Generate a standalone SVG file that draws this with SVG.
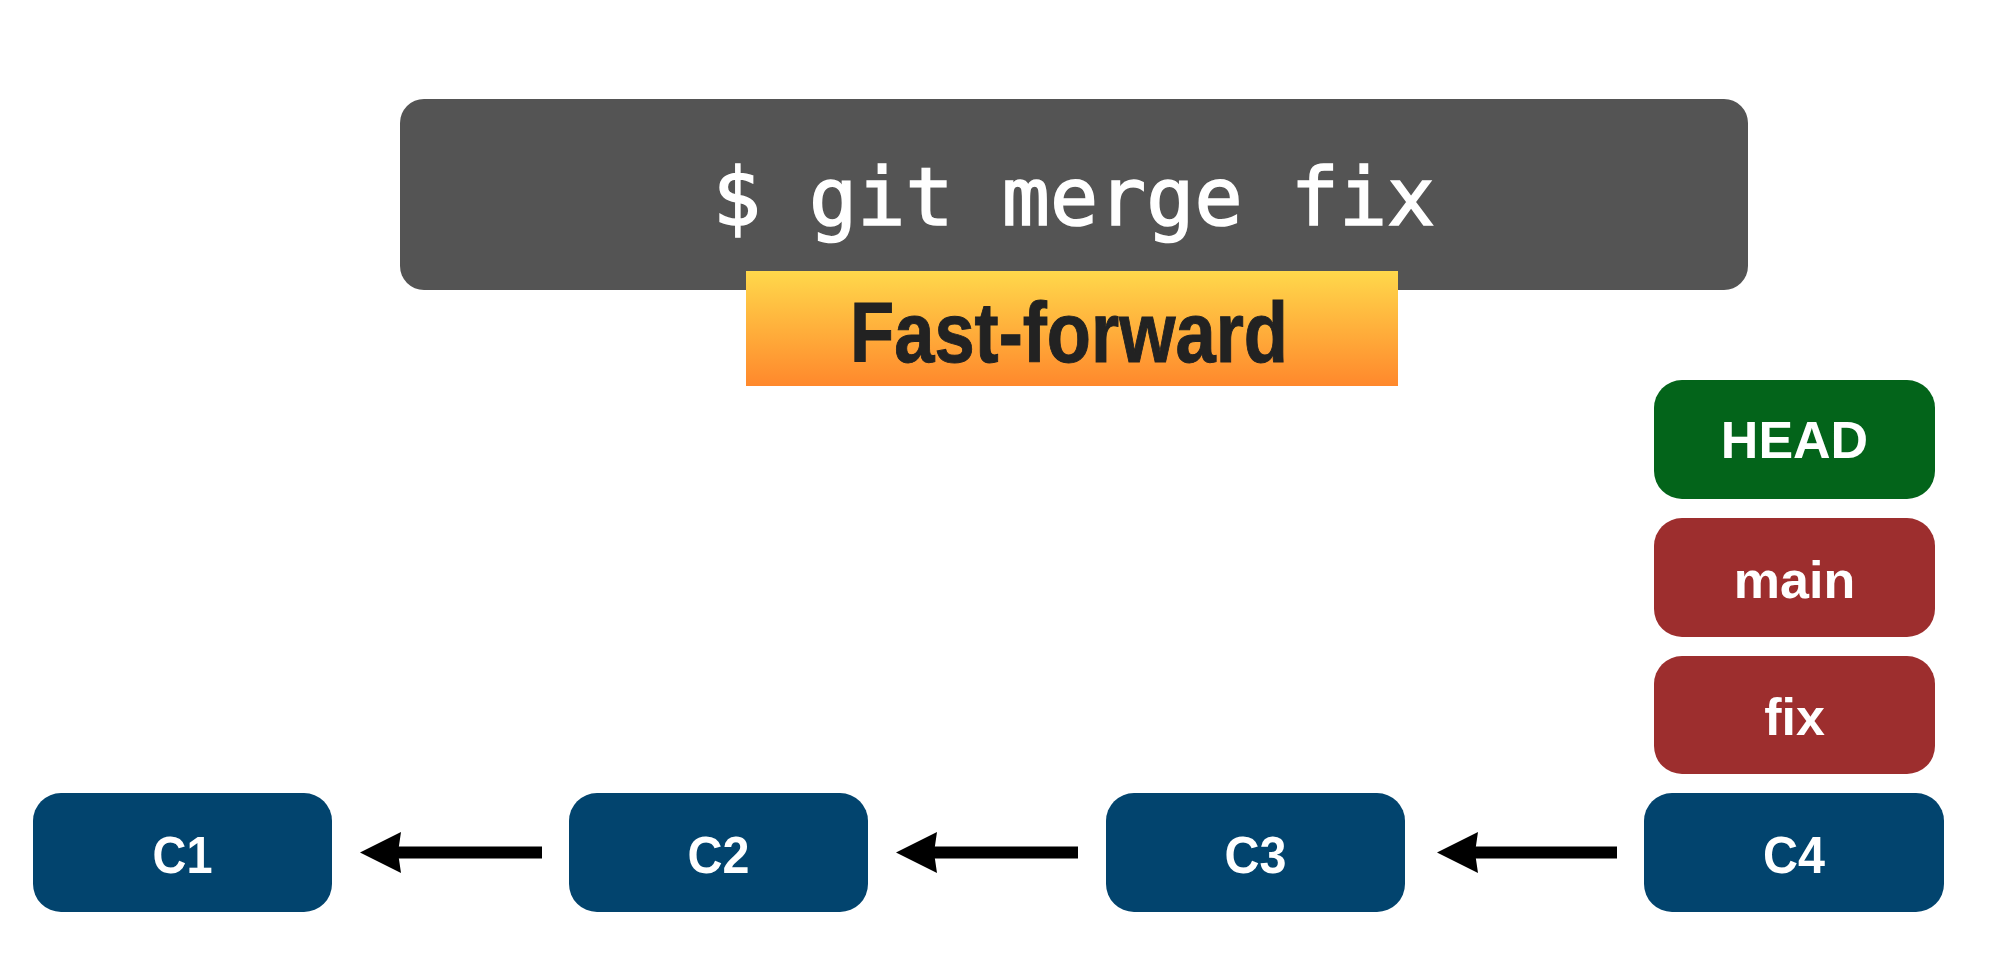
<svg xmlns="http://www.w3.org/2000/svg" width="2000" height="978" viewBox="0 0 2000 978">
<style>
.node text{font-family:"Liberation Sans",Arial,sans-serif;font-weight:bold;font-size:52px;fill:#ffffff;text-anchor:middle}
.commit{fill:#02446e}
.branch{fill:#9d2e2e}
.head{fill:#03641a}
.conn line{stroke:#000;stroke-width:12}
</style>
<defs>
<linearGradient id="og" x1="0" y1="0" x2="0" y2="1">
<stop offset="0" stop-color="#ffd84b"/>
<stop offset="1" stop-color="#ff882c"/>
</linearGradient>
</defs>
<rect width="2000" height="978" fill="#ffffff"/>
<g id="command">
<rect x="400" y="99" width="1348" height="191" rx="24" fill="#545454"/>
<text x="1074" y="225" font-family="'DejaVu Sans Mono','Liberation Mono',monospace" font-size="80" fill="#ffffff" stroke="#ffffff" stroke-width="1.6" text-anchor="middle">$ git merge fix</text>
</g>
<g id="fastforward">
<rect x="746" y="271" width="652" height="115" fill="url(#og)"/>
<text x="1069" y="362" font-family="'Liberation Sans',Arial,sans-serif" font-weight="bold" font-size="86" fill="#222222" stroke="#222222" stroke-width="1" text-anchor="middle" textLength="438" lengthAdjust="spacingAndGlyphs">Fast-forward</text>
</g>
<g id="connectors" class="conn">
<line x1="542" y1="852.5" x2="398" y2="852.5"/>
<path d="M401,832 L360,852.5 L401,873 L398,852.5 Z" fill="#000"/>
<line x1="1078" y1="852.5" x2="934" y2="852.5"/>
<path d="M937,832 L896,852.5 L937,873 L934,852.5 Z" fill="#000"/>
<line x1="1617" y1="852.5" x2="1475" y2="852.5"/>
<path d="M1478,832 L1437,852.5 L1478,873 L1475,852.5 Z" fill="#000"/>
</g>
<g id="C1" class="node"><rect class="commit" x="33" y="793" width="299" height="119" rx="28"/><text x="182.5" y="873" textLength="60" lengthAdjust="spacingAndGlyphs">C1</text></g>
<g id="C2" class="node"><rect class="commit" x="569" y="793" width="299" height="119" rx="28"/><text x="718.5" y="873" textLength="62" lengthAdjust="spacingAndGlyphs">C2</text></g>
<g id="C3" class="node"><rect class="commit" x="1106" y="793" width="299" height="119" rx="28"/><text x="1255.5" y="873" textLength="62" lengthAdjust="spacingAndGlyphs">C3</text></g>
<g id="C4" class="node"><rect class="commit" x="1644" y="793" width="300" height="119" rx="28"/><text x="1794" y="873" textLength="62" lengthAdjust="spacingAndGlyphs">C4</text></g>
<g id="fix" class="node"><rect class="branch" x="1654" y="656" width="281" height="118" rx="28"/><text x="1794.5" y="735">fix</text></g>
<g id="main" class="node"><rect class="branch" x="1654" y="518" width="281" height="119" rx="28"/><text x="1794.5" y="598">main</text></g>
<g id="HEAD" class="node"><rect class="head" x="1654" y="380" width="281" height="119" rx="28"/><text x="1794.5" y="458">HEAD</text></g>
</svg>
